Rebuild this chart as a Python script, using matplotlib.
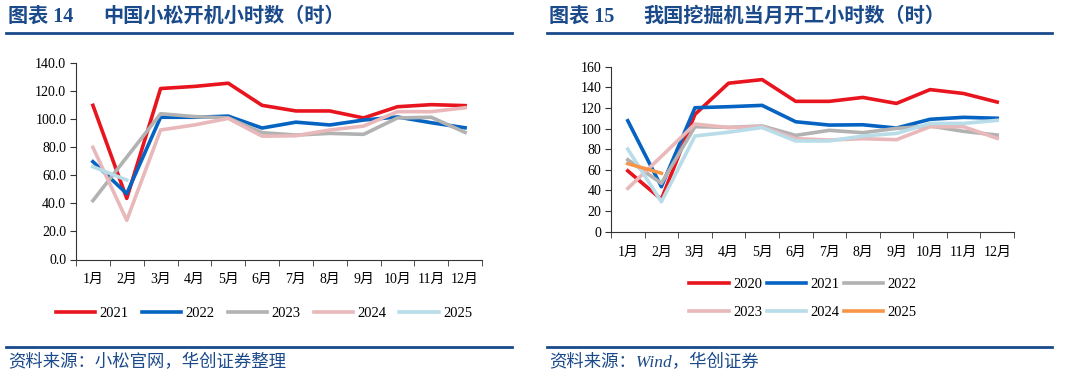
import matplotlib
matplotlib.use("Agg")
import matplotlib.pyplot as plt
from matplotlib.lines import Line2D

plt.rcParams['font.family'] = ['Liberation Serif', 'Noto Sans CJK SC']

months = ['1月', '2月', '3月', '4月', '5月', '6月', '7月', '8月', '9月', '10月', '11月', '12月']

# 图表14 中国小松开机小时数
komatsu_2021 = [110.0, 43.6, 122.0, 123.5, 125.8, 110.0, 106.0, 106.0, 101.0, 109.0, 110.5, 109.8]
komatsu_2022 = [69.8, 47.0, 101.5, 101.5, 102.3, 93.8, 98.0, 96.0, 99.5, 101.7, 97.6, 94.0]
komatsu_2023 = [42.0, 73.0, 104.0, 102.0, 101.0, 90.5, 88.8, 90.0, 89.3, 101.0, 101.5, 90.7]
komatsu_2024 = [80.0, 28.0, 92.4, 96.0, 100.7, 88.0, 88.3, 92.4, 95.2, 105.5, 105.5, 108.3]
komatsu_2025 = [66.2, 56.7]

# 图表15 我国挖掘机当月开工小时数
hours_2020 = [59.0, 31.4, 113.8, 144.0, 147.5, 126.4, 126.4, 130.2, 124.4, 137.8, 134.0, 125.7]
hours_2021 = [107.6, 43.6, 120.2, 121.2, 122.5, 106.6, 103.4, 103.7, 100.5, 109.0, 110.9, 110.0]
hours_2022 = [69.8, 46.9, 101.8, 101.2, 102.5, 93.4, 98.3, 96.0, 100.2, 102.5, 97.3, 93.7]
hours_2023 = [42.0, 73.0, 104.4, 101.0, 101.8, 90.2, 88.9, 90.2, 89.2, 101.8, 101.8, 90.5]
hours_2024 = [80.0, 29.0, 92.8, 96.5, 101.0, 88.0, 88.0, 92.8, 95.3, 105.0, 105.0, 108.0]
hours_2025 = [66.0, 56.7]

RED = '#E8141E'
BLUE = '#0563C1'
GRAY = '#B2B2B2'
PINK = '#E8B8BA'
LBLUE = '#B8DDE8'
ORANGE = '#F7964A'
NAVY = '#1B4A8A'

fig = plt.figure(figsize=(10.66, 3.78), dpi=100)
W, H = 1066, 378


def fx(px):
    return px / W


def fy(py):
    return 1 - py / H


def style_axes(ax, ymax, step, fmt):
    for s in ['top', 'right']:
        ax.spines[s].set_visible(False)
    for s in ['left', 'bottom']:
        ax.spines[s].set_color('#333333')
        ax.spines[s].set_linewidth(0.8)
    ax.set_ylim(0, ymax)
    ax.set_xlim(-0.5, 11.5)
    ticks = list(range(0, ymax + 1, step))
    ax.set_yticks(ticks)
    ax.set_yticklabels([fmt.format(t) for t in ticks], fontsize=10)
    ax.set_xticks(range(12))
    ax.set_xticklabels(months, fontsize=10)
    ax.set_xticks([i - 0.5 for i in range(13)], minor=True)
    ax.tick_params(axis='x', which='major', length=0, pad=10)
    ax.tick_params(axis='x', which='minor', length=4, direction='out', color='#333333')
    ax.tick_params(axis='y', length=4, direction='out', color='#333333', pad=3)


# header / footer decorations
def panel_frame(x0, x1, num, title, title_x, source):
    fam = ['Liberation Serif', 'Noto Sans CJK SC']
    fig.text(fx(x0 + 2), fy(17), num, fontsize=14.5, fontweight='bold', color=NAVY,
             va='center', ha='left', family=fam)
    fig.text(fx(title_x), fy(17), title, fontsize=14.5, fontweight='bold', color=NAVY,
             va='center', ha='left', family=fam)
    fig.add_artist(Line2D([fx(x0), fx(x1)], [fy(33), fy(33)], color=NAVY, lw=2))
    fig.add_artist(Line2D([fx(x0), fx(x1)], [fy(347), fy(347)], color=NAVY, lw=2))
    fig.text(fx(x0 + 2), fy(363), source, fontsize=12.5, color=NAVY, va='center', ha='left',
             style='italic', family=fam)


panel_frame(6, 512, '图表 14', '中国小松开机小时数（时）', 103, '资料来源：小松官网，华创证券整理')
panel_frame(547, 1052, '图表 15', '我国挖掘机当月开工小时数（时）', 643, '资料来源：Wind，华创证券')

# left chart
ax1 = fig.add_axes([fx(76), fy(259.5), fx(482 - 76), (259.5 - 63.3) / H])
lw = 2.6
x = range(12)
ax1.plot(x, komatsu_2021, color=RED, lw=lw, label='2021')
ax1.plot(x, komatsu_2022, color=BLUE, lw=lw, label='2022')
ax1.plot(x, komatsu_2023, color=GRAY, lw=lw, label='2023')
ax1.plot(x, komatsu_2024, color=PINK, lw=lw, label='2024')
ax1.plot(range(len(komatsu_2025)), komatsu_2025, color=LBLUE, lw=lw, label='2025')
style_axes(ax1, 140, 20, '{:.1f}')
ax1.legend(loc='center', bbox_to_anchor=(fx(264), fy(313)), bbox_transform=fig.transFigure,
           ncol=5, frameon=False, fontsize=10.5, handlelength=2.7, handletextpad=0.3,
           columnspacing=0.9)

# right chart
ax2 = fig.add_axes([fx(611), fy(231.7), fx(1014 - 611), (231.7 - 66.7) / H])
ax2.plot(x, hours_2020, color=RED, lw=lw, label='2020')
ax2.plot(x, hours_2021, color=BLUE, lw=lw, label='2021')
ax2.plot(x, hours_2022, color=GRAY, lw=lw, label='2022')
ax2.plot(x, hours_2023, color=PINK, lw=lw, label='2023')
ax2.plot(x, hours_2024, color=LBLUE, lw=lw, label='2024')
ax2.plot(range(len(hours_2025)), hours_2025, color=ORANGE, lw=lw, label='2025')
style_axes(ax2, 160, 20, '{:d}')
# legend fills row by row: reorder for matplotlib's column-major layout
h, l = ax2.get_legend_handles_labels()
order = [0, 3, 1, 4, 2, 5]
ax2.legend([h[i] for i in order], [l[i] for i in order], loc='center',
           bbox_to_anchor=(fx(803), fy(298.5)), bbox_transform=fig.transFigure,
           ncol=3, frameon=False, fontsize=10.5, handlelength=2.7, handletextpad=0.3,
           columnspacing=0.3, labelspacing=1.0)

fig.savefig('out.png', dpi=100)
